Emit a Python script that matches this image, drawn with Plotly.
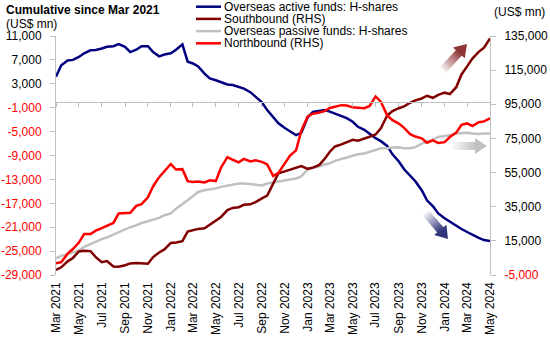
import math
import pandas as pd
import plotly.graph_objects as go

# ---------------- data ----------------
dates = pd.date_range("2021-03-01", "2024-05-01", freq="SMS")  # semi-monthly

active = [4200, 6100, 6900, 7000, 7500, 8100, 8600, 8650, 8900, 9200,
          9300, 9650, 9200, 8300, 8700, 9300, 9300, 8300, 7600, 7900,
          8100, 8700, 9600, 6700, 6400, 5900, 4700, 3900, 3600, 3300,
          2900, 2800, 2500, 2200, 1600, 900, -100, -1400, -2600, -3600,
          -4400, -5000, -5600, -5200, -2600, -1700, -1500, -1400, -1650, -2000,
          -2500, -2750, -3350, -4200, -4700, -5400, -6100, -6600, -7400, -8800,
          -10000, -11300, -12300, -13300, -14800, -16500, -17500, -18700, -19500, -20100,
          -20800, -21300, -21800, -22300, -22800, -23150, -23300]

southbound = [-2000, -500, 3000, 5000, 8800, 9200, 9000, 5500, 2500, 3200,
              0, -200, 700, 1800, 2100, 1800, 1600, 5500, 8200, 10000,
              13800, 14000, 14800, 20500, 21300, 22000, 22400, 24500, 27000, 29000,
              33000, 34300, 34700, 36100, 36400, 37700, 39900, 41500, 48500, 54600,
              55700, 56700, 58000, 58800, 57200, 57900, 59500, 63000, 67200, 70300,
              71500, 72800, 74200, 73700, 75200, 76000, 77300, 81000, 88400, 91000,
              92700, 93800, 95900, 97300, 98400, 100000, 98800, 100500, 101800, 101000,
              105000, 112500, 117200, 121800, 125700, 128200, 133600]

passive = [-26200, -25800, -25500, -25200, -24900, -24300, -23800, -23450, -23000, -22700,
           -22200, -21800, -21350, -21000, -20700, -20300, -20000, -19700, -19450, -19000,
           -18700, -17900, -17200, -16500, -15800, -15100, -14800, -14700, -14500, -14250,
           -14050, -13800, -13700, -13700, -13800, -14000, -14000, -13700, -13500, -13300,
           -13100, -13000, -12850, -12500, -11300, -11100, -10800, -10500, -10300, -9900,
           -9600, -9400, -9100, -8800, -8650, -8400, -8000, -7800, -7800, -7650,
           -7630, -7800, -7800, -7600, -7000, -6700, -6350, -5900, -5750, -5600,
           -5300, -5200, -5200, -5300, -5400, -5300, -5300]

northbound = [1800, 2500, 7500, 10200, 14000, 19000, 19000, 21000, 22500, 23800,
              25500, 31000, 31100, 31400, 35500, 36500, 40500, 47000, 52300, 56000,
              60000, 56800, 57000, 50000, 49500, 49700, 49200, 50500, 50000, 58000,
              64000, 62500, 61000, 63000, 61500, 62200, 61300, 59800, 53000, 54800,
              60500, 64900, 68000, 79500, 87900, 89500, 90200, 91000, 92800, 93500,
              94500, 94300, 93200, 93000, 92700, 94000, 99600, 96500, 88500, 85700,
              83700, 81200, 77500, 76100, 75100, 72500, 73900, 72300, 72800, 75800,
              78400, 83000, 83800, 82300, 84500, 85000, 86800]

names = ["Overseas active funds: H-shares", "Southbound (RHS)",
         "Overseas passive funds: H-shares", "Northbound (RHS)"]

left_ticks = [11000, 7000, 3000, -1000, -5000, -9000, -13000, -17000, -21000, -25000, -29000]
right_ticks = [135000, 115000, 95000, 75000, 55000, 35000, 15000, -5000]

# ---------------- styling ----------------
NAVY, MAROON, GREY, RED = "#000080", "#800000", "#C0C0C0", "#FF0000"
AXIS_GREY = "#BFBFBF"
FONT = "Liberation Sans, Arial, sans-serif"

WIDTH, HEIGHT = 550, 337
ML, MR, MT, MB = 56, 60, 36, 62
PW, PH = WIDTH - ML - MR, HEIGHT - MT - MB


def px(x):
    return (x - ML) / PW


def py(y):
    return (HEIGHT - MB - y) / PH


def tick_text(vals):
    out = []
    for v in vals:
        s = f"{v:,}"
        if v < 0:
            s = f'<span style="color:#FF0000">{s}</span>'
        out.append(s)
    return out


fig = go.Figure()
series = [(active, NAVY, "y"), (southbound, MAROON, "y2"),
          (passive, GREY, "y"), (northbound, RED, "y2")]
for (vals, col, ax), nm in zip(series, names):
    fig.add_trace(go.Scatter(x=dates, y=vals, name=nm, mode="lines", yaxis=ax,
                             line=dict(color=col, width=2.5), showlegend=False))

# invisible trace to carry the axis drawn at y=0
fig.add_trace(go.Scatter(x=[dates[0]], y=[None], xaxis="x2", yaxis="y",
                         showlegend=False, hoverinfo="skip"))

shapes = []
annotations = []

# manual legend
leg_y = [6.7, 18.9, 31.1, 43.3]
for (vals, col, ax), nm, yy in zip(series, names, leg_y):
    shapes.append(dict(type="line", xref="paper", yref="paper",
                       x0=px(196), x1=px(221), y0=py(yy), y1=py(yy),
                       line=dict(color=col, width=2.5)))
    annotations.append(dict(text=nm, xref="paper", yref="paper", x=px(223), y=py(yy),
                            xanchor="left", yanchor="middle", showarrow=False,
                            borderpad=0, font=dict(size=12, color="black")))

annotations += [
    dict(text="<b>Cumulative since Mar 2021</b>", xref="paper", yref="paper",
         x=px(5), y=py(10), xanchor="left", yanchor="middle", showarrow=False,
         borderpad=0, font=dict(size=12, color="black")),
    dict(text="(US$ mn)", xref="paper", yref="paper", x=px(5), y=py(24),
         xanchor="left", yanchor="middle", showarrow=False, borderpad=0,
         font=dict(size=12, color="black")),
    dict(text="(US$ mn)", xref="paper", yref="paper", x=px(493), y=py(12),
         xanchor="left", yanchor="middle", showarrow=False, borderpad=0,
         font=dict(size=12, color="black")),
]


def blend(rgb, a):
    r, g, b = rgb
    return "rgb(%d,%d,%d)" % (round(255 + (r - 255) * a), round(255 + (g - 255) * a),
                              round(255 + (b - 255) * a))


def arrow(tail, tip, rgb, shaft_w=8, head_w=16, head_len=12, nseg=12):
    tx, ty = tail
    hx, hy = tip
    dx, dy = hx - tx, hy - ty
    ln = math.hypot(dx, dy)
    ux, uy = dx / ln, dy / ln
    nx, ny = -uy, ux
    sl = ln - head_len
    out = []

    def path(pts):
        return "M " + " L ".join(f"{px(a):.5f},{py(b):.5f}" for a, b in pts) + " Z"

    for k in range(nseg):
        s0 = sl * k / nseg
        s1 = min(sl * (k + 1) / nseg + 0.8, sl + 0.5)
        a = 0.05 + 0.8 * (k + 0.5) / nseg
        hw = shaft_w / 2
        pts = [(tx + ux * s0 + nx * hw, ty + uy * s0 + ny * hw),
               (tx + ux * s1 + nx * hw, ty + uy * s1 + ny * hw),
               (tx + ux * s1 - nx * hw, ty + uy * s1 - ny * hw),
               (tx + ux * s0 - nx * hw, ty + uy * s0 - ny * hw)]
        out.append(dict(type="path", xref="paper", yref="paper", path=path(pts),
                        fillcolor=blend(rgb, a), line=dict(width=0), layer="above"))
    bx, by = tx + ux * sl, ty + uy * sl
    hh = head_w / 2
    pts = [(bx + nx * hh, by + ny * hh), (hx, hy), (bx - nx * hh, by - ny * hh)]
    out.append(dict(type="path", xref="paper", yref="paper", path=path(pts),
                    fillcolor=blend(rgb, 0.9), line=dict(width=0), layer="above"))
    return out


shapes += arrow((443, 70), (467, 44), (128, 30, 30))
shapes += arrow((452, 146), (487, 146), (185, 185, 185))
shapes += arrow((426, 213), (448, 239), (30, 30, 110))

xrange = ["2021-03-01", "2024-05-01"]

fig.update_layout(
    width=WIDTH, height=HEIGHT,
    margin=dict(l=ML, r=MR, t=MT, b=MB, pad=0, autoexpand=False),
    paper_bgcolor="white", plot_bgcolor="white",
    font=dict(family=FONT, size=12, color="black"),
    showlegend=False,
    hovermode=False,
    xaxis=dict(type="date", range=xrange, tick0="2021-03-01", dtick="M2",
               tickformat="%b %Y", tickangle=-90, showline=False, ticks="",
               showgrid=False, zeroline=False, ticklabelstandoff=4, automargin=False,
               tickfont=dict(size=12, color="black")),
    xaxis2=dict(type="date", range=xrange, overlaying="x", anchor="free", position=0.725,
                tick0="2021-03-01", dtick="M2", showticklabels=False, automargin=False,
                showline=True, linecolor=AXIS_GREY, linewidth=1,
                ticks="outside", ticklen=4, tickcolor=AXIS_GREY, showgrid=False, zeroline=False),
    yaxis=dict(range=[-29000, 11000], tickvals=left_ticks, ticktext=tick_text(left_ticks),
               showline=True, linecolor=AXIS_GREY, linewidth=1, ticks="outside", ticklen=5,
               tickcolor=AXIS_GREY, showgrid=False, zeroline=False, ticklabelstandoff=6,
               automargin=False, tickfont=dict(size=12, color="black")),
    yaxis2=dict(range=[-5000, 135000], tickvals=right_ticks, ticktext=tick_text(right_ticks),
                overlaying="y", side="right", anchor="x",
                showline=True, linecolor=AXIS_GREY, linewidth=1, ticks="outside", ticklen=5,
                tickcolor=AXIS_GREY, showgrid=False, zeroline=False, ticklabelstandoff=6,
                automargin=False, tickfont=dict(size=12, color="black")),
    shapes=shapes,
    annotations=annotations,
)

fig.write_html("out.html", config={"displayModeBar": False, "staticPlot": True},
               post_script="document.body.style.margin='0px';document.body.style.overflow='hidden';")
